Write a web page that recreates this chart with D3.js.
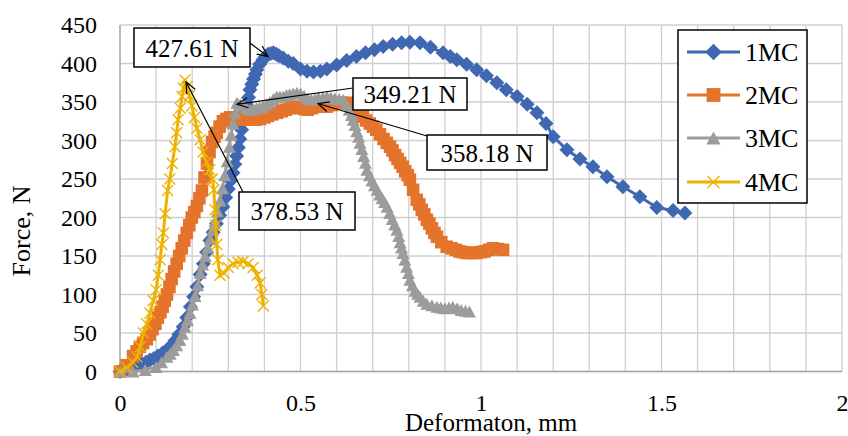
<!DOCTYPE html>
<html><head><meta charset="utf-8">
<script src="https://cdn.jsdelivr.net/npm/d3@7"></script>
<style>
html,body{margin:0;padding:0;background:#fff;}
svg{display:block;font-family:"Liberation Serif","Times New Roman",serif;}
</style></head>
<body><svg id="c" width="848" height="436"></svg>
<script>
// ---- data ----
const seriesNames = ["1MC", "2MC", "3MC", "4MC"];
const x1 = [0,0.018,0.036,0.048,0.06,0.072,0.083,0.094,0.105,0.118,0.13,0.141,0.152,0.163,0.175,0.185,0.195,0.204,0.213,0.222,0.231,0.24,0.249,0.258,0.267,0.276,0.285,0.293,0.3,0.307,0.313,0.318,0.323,0.328,0.332,0.337,0.341,0.346,0.351,0.356,0.36,0.365,0.37,0.375,0.379,0.387,0.396,0.403,0.41,0.418,0.425,0.433,0.44,0.452,0.466,0.48,0.5,0.518,0.536,0.555,0.573,0.6,0.628,0.655,0.68,0.705,0.729,0.755,0.78,0.803,0.831,0.86,0.895,0.915,0.933,0.96,0.988,1.015,1.044,1.07,1.1,1.128,1.155,1.18,1.2,1.238,1.274,1.31,1.349,1.393,1.44,1.487,1.532,1.565];
const y1 = [0,3,6,8,10,12,15,17,20,24,28,33,40,48,58,70,84,97,110,126,140,155,170,181,192,203,214,226,237,248,258,269,280,291,302,314,325,336,346,356,366,373,380,386,392,399,405,409,412,413,414,412,410,407,403,400,393,390,389,390,393,398,404,409,414,418,422,425,427,427.61,427,421,414,409,405,399,392,384,375,366,357,347,336,322,305,288,276,266,253,240,227,213,209,206];
const x2 = [0,0.018,0.036,0.046,0.055,0.064,0.074,0.082,0.09,0.098,0.105,0.112,0.118,0.124,0.13,0.137,0.143,0.15,0.157,0.164,0.171,0.178,0.185,0.192,0.199,0.206,0.213,0.22,0.227,0.234,0.241,0.248,0.255,0.262,0.268,0.276,0.285,0.295,0.305,0.314,0.323,0.332,0.341,0.35,0.36,0.374,0.388,0.4,0.41,0.422,0.435,0.448,0.46,0.47,0.48,0.49,0.5,0.51,0.52,0.532,0.545,0.559,0.573,0.587,0.6,0.614,0.628,0.64,0.65,0.662,0.673,0.682,0.692,0.701,0.71,0.72,0.73,0.739,0.748,0.755,0.762,0.769,0.776,0.783,0.79,0.797,0.803,0.812,0.822,0.829,0.836,0.843,0.85,0.857,0.864,0.871,0.878,0.89,0.905,0.918,0.93,0.94,0.95,0.96,0.97,0.98,0.988,1.0,1.01,1.022,1.033,1.047,1.061];
const y2 = [0,8,20,26,32,37,42,48,55,62,70,77,84,92,100,110,120,130,140,150,160,170,180,190,200,207,215,225,235,252,270,285,298,305,310,318,325,328,330,330,329,328,327,327,327,327,328,330,332,334,336,338,340,342,344,343,342,341,340,342,344,344,344,346,349.21,349,349,346,342,337,331,326,322,318,314,308,302,297,292,287,281,276,271,266,260,255,249,236,223,217,210,204,197,192,186,180,175,168,162,160,158,156,155,154,154,154,154,155,156,158,160,159,158];
const x3 = [0,0.036,0.07,0.1,0.115,0.13,0.139,0.148,0.157,0.166,0.173,0.18,0.187,0.194,0.201,0.208,0.215,0.222,0.229,0.236,0.243,0.25,0.257,0.263,0.27,0.277,0.284,0.29,0.297,0.303,0.308,0.313,0.319,0.324,0.333,0.342,0.351,0.36,0.369,0.378,0.387,0.396,0.406,0.415,0.425,0.434,0.443,0.452,0.461,0.47,0.48,0.49,0.5,0.51,0.52,0.53,0.54,0.55,0.562,0.573,0.584,0.595,0.607,0.618,0.627,0.635,0.641,0.646,0.651,0.656,0.661,0.665,0.67,0.675,0.68,0.684,0.691,0.698,0.705,0.712,0.719,0.726,0.733,0.74,0.747,0.754,0.761,0.767,0.772,0.776,0.78,0.784,0.789,0.794,0.799,0.803,0.81,0.817,0.824,0.831,0.84,0.85,0.864,0.878,0.889,0.9,0.911,0.922,0.934,0.945,0.957,0.968];
const y3 = [0,0,2,6,12,19,23,28,34,41,49,58,67,76,87,98,112,128,139,150,161,172,184,195,208,222,238,255,273,292,307,322,336,349,347,345,342,340,341,342,343,344,347,350,354,357,357,357,359,360,361,362,361,358.18,355,353,354,356,356,357,356,355,354,353,347,340,333,327,320,312,305,297,289,280,271,262,255,248,242,236,230,225,220,214,206,198,191,184,176,168,161,154,145,136,128,119,112,105,101,97,92,88,86,84,83,82,83,84,82,80,79,78];
const x4 = [0,0.02,0.035,0.047,0.056,0.065,0.074,0.083,0.092,0.1,0.106,0.111,0.116,0.12,0.125,0.132,0.138,0.145,0.152,0.157,0.161,0.167,0.172,0.176,0.18,0.186,0.192,0.199,0.206,0.213,0.222,0.23,0.24,0.249,0.256,0.26,0.263,0.265,0.268,0.271,0.277,0.288,0.3,0.313,0.327,0.341,0.355,0.369,0.38,0.388,0.393,0.397];
const y4 = [0,5,12,19,32,50,62,76,92,106,125,145,165,180,205,235,250,270,292,310,327,342,357,368,378.53,370,358,345,330,316,301,285,272,262,250,236,210,190,165,145,125,128,135,140,142,143,140,135,125,115,100,85];
const xTicks = [0, 0.5, 1, 1.5, 2];
const yTicks = [0, 50, 100, 150, 200, 250, 300, 350, 400, 450];
const annLabels = ["427.61 N", "378.53 N", "349.21 N", "358.18 N"];
const annTargetX = [0.41, 0.183, 0.324, 0.548];
const annTargetY = [409, 376, 347, 348];
const xTitle = "Deformaton, mm";
const yTitle = "Force, N";

// ---- layout ----
const colors = ["#4068B2", "#E4742C", "#9C9C9C", "#EEB200"];
const svg = d3.select("#c");
const L = 120, R = 842, T = 25, B = 371.5;
const x = d3.scaleLinear().domain([0, 2]).range([L, R]);
const y = d3.scaleLinear().domain([0, 450]).range([B, T]);

// gridlines
const g = svg.append("g");
g.selectAll("line.v").data(d3.range(0, 21).map(i => i / 10)).enter().append("line")
  .attr("x1", d => x(d)).attr("x2", d => x(d)).attr("y1", T).attr("y2", B)
  .attr("stroke", "#cfcfcf").attr("stroke-width", 1.3);
g.selectAll("line.h").data(yTicks).enter().append("line")
  .attr("y1", d => y(d)).attr("y2", d => y(d)).attr("x1", L).attr("x2", R)
  .attr("stroke", "#cfcfcf").attr("stroke-width", 1.3);
svg.append("line").attr("x1", L).attr("x2", L).attr("y1", T).attr("y2", B).attr("stroke", "#a6a6a6").attr("stroke-width", 1.3);
svg.append("line").attr("x1", L).attr("x2", R).attr("y1", B).attr("y2", B).attr("stroke", "#a6a6a6").attr("stroke-width", 1.3);

// axes via d3
const xAx = svg.append("g").attr("transform", `translate(0,${B})`)
  .call(d3.axisBottom(x).tickValues(xTicks).tickFormat(d3.format("")).tickSize(0).tickPadding(22));
xAx.select(".domain").remove();
xAx.selectAll("text").attr("font-size", 24).attr("fill", "#000").attr("font-family", "Liberation Serif");
const yAx = svg.append("g").attr("transform", `translate(${L},0)`)
  .call(d3.axisLeft(y).tickValues(yTicks).tickSize(0).tickPadding(23));
yAx.select(".domain").remove();
yAx.selectAll("text").attr("font-size", 24).attr("fill", "#000").attr("font-family", "Liberation Serif");

// titles
svg.append("text").attr("x", 491).attr("y", 431).attr("text-anchor", "middle")
  .attr("font-size", 25).text(xTitle);
svg.append("text").attr("transform", "translate(30,231) rotate(-90)").attr("text-anchor", "middle")
  .attr("font-size", 26).text(yTitle);

// series
const xs = [x1, x2, x3, x4], ys = [y1, y2, y3, y4];
const line = d3.line().x(d => x(d[0])).y(d => y(d[1]));

function drawMarker(sel, i, cx, cy, s) {
  s = s || 1;
  let d;
  if (i === 0) { const r = 7.5 * s; d = `M${cx},${cy - r}L${cx + r},${cy}L${cx},${cy + r}L${cx - r},${cy}Z`; }
  else if (i === 1) { const r = 6.3 * s; d = `M${cx - r},${cy - r}h${2 * r}v${2 * r}h${-2 * r}Z`; }
  else if (i === 2) { const w = 6.5 * s, h = 6 * s; d = `M${cx},${cy - h}L${cx + w},${cy + h}L${cx - w},${cy + h}Z`; }
  if (i === 3) {
    const r = 5.5 * s;
    sel.append("path").attr("d", `M${cx - r},${cy - r}L${cx + r},${cy + r}M${cx - r},${cy + r}L${cx + r},${cy - r}`)
      .attr("stroke", colors[i]).attr("stroke-width", 1.4).attr("fill", "none");
  } else {
    sel.append("path").attr("d", d).attr("fill", colors[i]);
  }
}

const plot = svg.append("g");
for (let i = 0; i < 4; i++) {
  const data = xs[i].map((v, k) => [v, ys[i][k]]);
  const sg = plot.append("g");
  sg.append("path").datum(data).attr("d", line).attr("fill", "none")
    .attr("stroke", colors[i]).attr("stroke-width", 3).attr("stroke-linejoin", "round");
  data.forEach(d => drawMarker(sg, i, x(d[0]), y(d[1])));
}

// annotations
const boxes = [
  {cx: 192, cy: 47.5, w: 116, h: 39, sx: 250, sy: 43},
  {cx: 297, cy: 211, w: 116, h: 38, sx: 243, sy: 192},
  {cx: 410, cy: 94, w: 114, h: 32, sx: 353, sy: 88},
  {cx: 487, cy: 152.5, w: 120, h: 35, sx: 427, sy: 136}
];
svg.append("defs").append("marker").attr("id", "arr").attr("viewBox", "0 0 12 12")
  .attr("refX", 11).attr("refY", 6).attr("markerWidth", 12).attr("markerHeight", 12)
  .attr("markerUnits", "userSpaceOnUse").attr("orient", "auto")
  .append("path").attr("d", "M0,1L11,6L0,11").attr("fill", "none").attr("stroke", "#000").attr("stroke-width", 1.2);
const ann = svg.append("g");
annLabels.forEach((t, i) => {
  const b = boxes[i];
  ann.append("line").attr("x1", b.sx).attr("y1", b.sy)
    .attr("x2", x(annTargetX[i])).attr("y2", y(annTargetY[i]))
    .attr("stroke", "#000").attr("stroke-width", 1.2).attr("marker-end", "url(#arr)");
});
annLabels.forEach((t, i) => {
  const b = boxes[i];
  ann.append("rect").attr("x", b.cx - b.w / 2).attr("y", b.cy - b.h / 2).attr("width", b.w).attr("height", b.h)
    .attr("fill", "#fff").attr("stroke", "#000").attr("stroke-width", 1.5);
  ann.append("text").attr("x", b.cx).attr("y", b.cy + 9).attr("text-anchor", "middle")
    .attr("font-size", 25).text(t);
});

// legend
const lg = svg.append("g");
lg.append("rect").attr("x", 678).attr("y", 30).attr("width", 129).attr("height", 173)
  .attr("fill", "#fff").attr("stroke", "#000").attr("stroke-width", 1.5);
const legY = [52, 95, 138, 182];
seriesNames.forEach((n, i) => {
  lg.append("line").attr("x1", 687).attr("x2", 740).attr("y1", legY[i]).attr("y2", legY[i])
    .attr("stroke", colors[i]).attr("stroke-width", 3);
  drawMarker(lg, i, 713.5, legY[i], 1.1);
  lg.append("text").attr("x", 745).attr("y", legY[i] + 9).attr("font-size", 26).text(n);
});
</script></body></html>
